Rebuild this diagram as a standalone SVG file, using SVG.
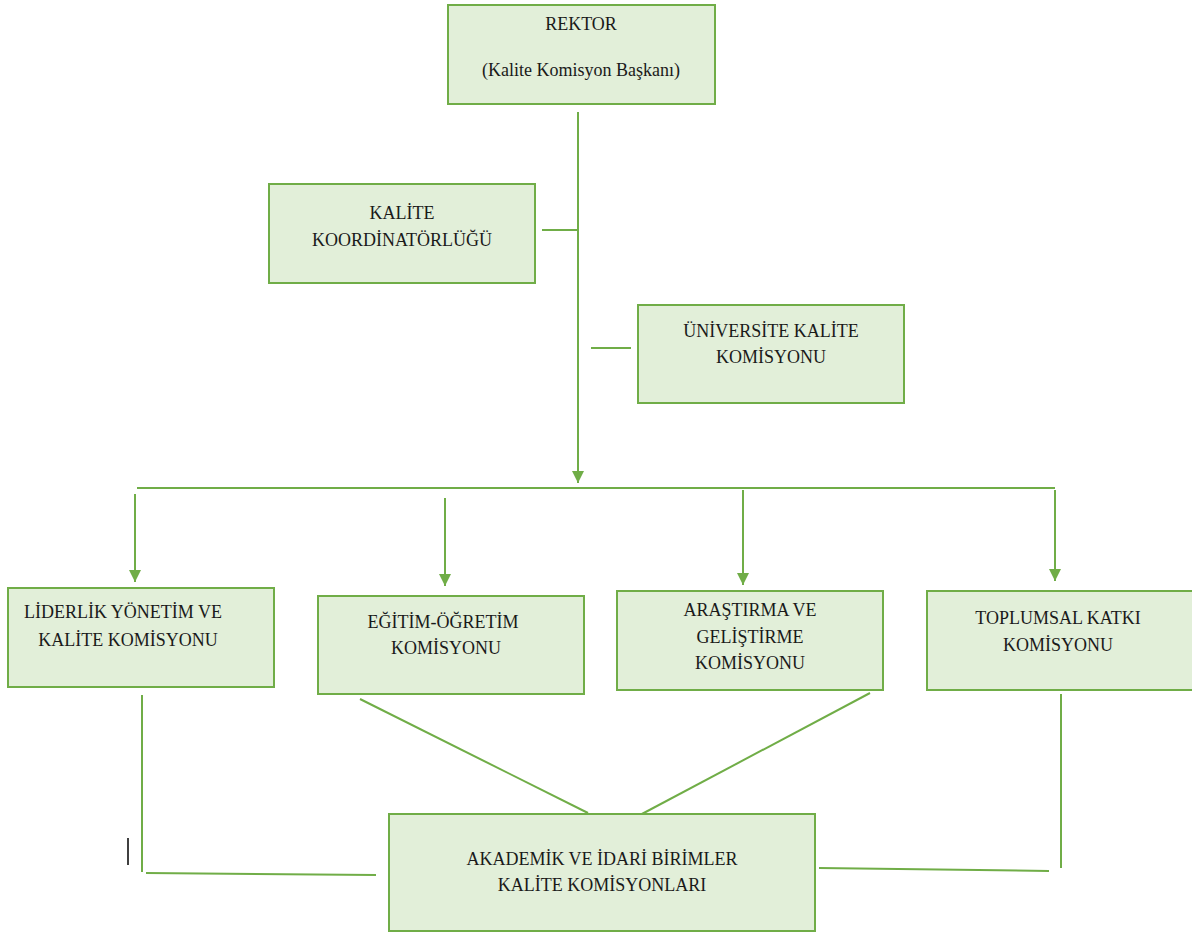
<svg xmlns="http://www.w3.org/2000/svg" width="1192" height="933" viewBox="0 0 1192 933">
<style>
.box{fill:#E2EFD9;stroke:#70AD47;stroke-width:2}
.t{font-family:"Liberation Serif","Times New Roman","DejaVu Serif",serif;font-size:18px;fill:#1a1a1a;text-anchor:middle}
.c{stroke:#70AD47;stroke-width:2;fill:none}
</style>
<defs>
<marker id="ah" viewBox="0 0 10 10" refX="10" refY="5" markerWidth="12" markerHeight="12" markerUnits="userSpaceOnUse" orient="auto">
<path d="M0,0 L10,5 L0,10 Z" fill="#70AD47"/>
</marker>
</defs>
<rect width="1192" height="933" fill="#fff"/>
<g id="connectors">
<line class="c" x1="578" y1="112" x2="578" y2="483" marker-end="url(#ah)"/>
<line class="c" x1="542" y1="230" x2="578" y2="230"/>
<line class="c" x1="591" y1="348" x2="631" y2="348"/>
<line class="c" x1="137" y1="488" x2="1055" y2="488"/>
<line class="c" x1="135" y1="494" x2="135" y2="582" marker-end="url(#ah)"/>
<line class="c" x1="445" y1="498" x2="445" y2="586" marker-end="url(#ah)"/>
<line class="c" x1="743" y1="490" x2="743" y2="585" marker-end="url(#ah)"/>
<line class="c" x1="1055" y1="490" x2="1055" y2="581" marker-end="url(#ah)"/>
<line class="c" x1="142" y1="695" x2="142" y2="872"/>
<line class="c" x1="146" y1="873" x2="376" y2="875"/>
<line class="c" x1="360" y1="699" x2="588" y2="813"/>
<line class="c" x1="870" y1="693" x2="640" y2="815"/>
<line class="c" x1="1061" y1="694" x2="1061" y2="868"/>
<line class="c" x1="819" y1="868" x2="1049" y2="871"/>
</g>
<line x1="128" y1="838" x2="128" y2="865" stroke="#000" stroke-width="1.5"/>
<g id="rektor">
<rect class="box" x="448" y="5" width="267" height="99"/>
<text class="t" x="581" y="30">REKTOR</text>
<text class="t" x="581" y="76">(Kalite Komisyon Başkanı)</text>
</g>
<g id="kalite-koordinatorlugu">
<rect class="box" x="269" y="184" width="266" height="99"/>
<text class="t" x="402" y="219">KALİTE</text>
<text class="t" x="402" y="246">KOORDİNATÖRLÜĞÜ</text>
</g>
<g id="universite-kalite-komisyonu">
<rect class="box" x="638" y="305" width="266" height="98"/>
<text class="t" x="771" y="337">ÜNİVERSİTE KALİTE</text>
<text class="t" x="771" y="363">KOMİSYONU</text>
</g>
<g id="liderlik">
<rect class="box" x="8" y="588" width="266" height="99"/>
<text class="t" x="123" y="618">LİDERLİK YÖNETİM VE</text>
<text class="t" x="128" y="646">KALİTE KOMİSYONU</text>
</g>
<g id="egitim">
<rect class="box" x="318" y="596" width="266" height="98"/>
<text class="t" x="443" y="628">EĞİTİM-ÖĞRETİM</text>
<text class="t" x="446" y="654">KOMİSYONU</text>
</g>
<g id="arastirma">
<rect class="box" x="617" y="591" width="266" height="99"/>
<text class="t" x="750" y="616">ARAŞTIRMA VE</text>
<text class="t" x="750" y="643">GELİŞTİRME</text>
<text class="t" x="750" y="669">KOMİSYONU</text>
</g>
<g id="toplumsal">
<rect class="box" x="927" y="591" width="266" height="99"/>
<text class="t" x="1058" y="624">TOPLUMSAL KATKI</text>
<text class="t" x="1058" y="651">KOMİSYONU</text>
</g>
<g id="akademik">
<rect class="box" x="389" y="814" width="426" height="117"/>
<text class="t" x="602" y="865">AKADEMİK VE İDARİ BİRİMLER</text>
<text class="t" x="602" y="891">KALİTE KOMİSYONLARI</text>
</g>
</svg>
